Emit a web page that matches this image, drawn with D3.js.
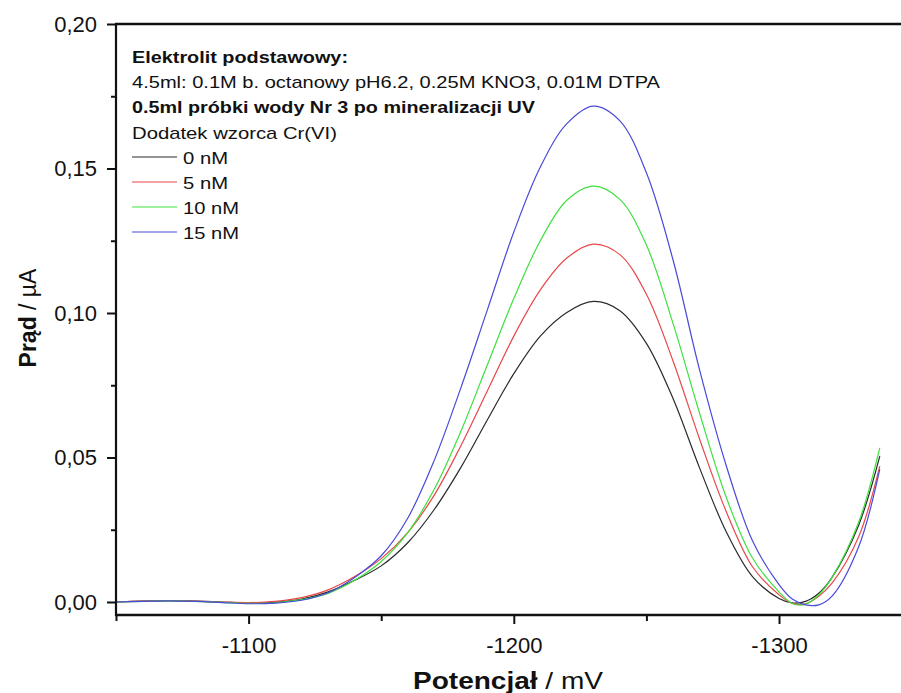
<!DOCTYPE html>
<html>
<head>
<meta charset="utf-8">
<script src="https://cdn.jsdelivr.net/npm/d3@7/dist/d3.min.js"></script>
<style>
  body { margin: 0; background: #fff; }
  svg { display: block; font-family: Arial, "Liberation Sans", sans-serif; }
</style>
</head>
<body>
<div id="chart"></div>
<script>
// potential grid (mV) shared by all curves
const potencjal = [-1050,-1060,-1070,-1080,-1090,-1100,-1110,-1120,-1130,-1140,-1150,-1160,-1170,-1180,-1190,-1200,-1210,-1220,-1230,-1240,-1250,-1260,-1270,-1280,-1290,-1300,-1305,-1310,-1315,-1320,-1330,-1338];

const prad0 = [0.0000,0.0003,0.0005,0.0003,0.0000,-0.0003,-0.0001,0.0010,0.0035,0.0075,0.0125,0.0205,0.0320,0.0465,0.0630,0.0790,0.0920,0.1002,0.1040,0.1008,0.0895,0.0705,0.0465,0.0245,0.0088,0.0012,-0.0003,0.0002,0.0030,0.0085,0.0265,0.0505];
const prad5 = [0.0000,0.0003,0.0005,0.0003,0.0000,-0.0002,0.0002,0.0015,0.0042,0.0088,0.0150,0.0240,0.0370,0.0540,0.0730,0.0920,0.1080,0.1190,0.1238,0.1202,0.1065,0.0835,0.0565,0.0315,0.0122,0.0025,-0.0005,-0.0006,0.0020,0.0065,0.0225,0.0470];
const prad10 = [0.0000,0.0002,0.0004,0.0002,-0.0001,-0.0005,-0.0003,0.0008,0.0030,0.0075,0.0140,0.0240,0.0390,0.0590,0.0820,0.1050,0.1250,0.1390,0.1439,0.1393,0.1235,0.0965,0.0655,0.0365,0.0152,0.0035,-0.0005,-0.0008,0.0025,0.0085,0.0275,0.0533];
const prad15 = [0.0000,0.0002,0.0004,0.0002,-0.0002,-0.0006,-0.0004,0.0006,0.0032,0.0085,0.0160,0.0290,0.0490,0.0740,0.1010,0.1280,0.1505,0.1655,0.1716,0.1665,0.1485,0.1185,0.0805,0.0475,0.0212,0.0060,0.0010,-0.0010,-0.0010,0.0020,0.0190,0.0460];

const serie = ["0 nM", "5 nM", "10 nM", "15 nM"];
const kolory = ["#2a2a2a", "#e8474a", "#3ee03e", "#4a4ad8"];

const yMajor = [0, 0.05, 0.10, 0.15, 0.20];
const yMinor = [0.025, 0.075, 0.125, 0.175];
const xMajor = [-1100, -1200, -1300];
const xMinor = [-1050, -1150, -1250];

const opis = [
  {t: "Elektrolit podstawowy:", b: true, w: 216},
  {t: "4.5ml: 0.1M b. octanowy pH6.2, 0.25M KNO3, 0.01M DTPA", b: false, w: 528},
  {t: "0.5ml próbki wody Nr 3 po mineralizacji UV", b: true, w: 403},
  {t: "Dodatek wzorca Cr(VI)", b: false, w: 205}
];

const W = 901, H = 693;
const mLeft = 116, mTop = 24, mBottom = 615, mRight = 901;

const svg = d3.select("#chart").append("svg")
  .attr("width", W).attr("height", H);

const x = d3.scaleLinear().domain([-1050, -1346]).range([mLeft, mRight]);
const y = d3.scaleLinear().domain([-0.0045, 0.20]).range([mBottom, mTop]);

const fmt = d => d3.format(".2f")(d).replace(".", ",");

// curves
const dane = [prad0, prad5, prad10, prad15];
const line = d3.line()
  .x((d, i) => x(potencjal[i]))
  .y(d => y(d))
  .curve(d3.curveCatmullRom.alpha(0.5));

svg.append("g").selectAll("path")
  .data(dane)
  .enter()
  .append("path")
  .attr("fill", "none")
  .attr("stroke", (d, i) => kolory[i])
  .attr("stroke-width", 1.2)
  .attr("d", line);

// axes
const yAx = svg.append("g").attr("transform", `translate(${mLeft},0)`)
  .call(d3.axisLeft(y).tickValues(yMajor).tickSize(9).tickFormat(fmt));
svg.append("g").attr("transform", `translate(${mLeft},0)`)
  .call(d3.axisLeft(y).tickValues(yMinor).tickSize(5).tickFormat(""));

const xAx = svg.append("g").attr("transform", `translate(0,${mBottom})`)
  .call(d3.axisBottom(x).tickValues(xMajor).tickSize(9).tickFormat(d3.format("d")));
svg.append("g").attr("transform", `translate(0,${mBottom})`)
  .call(d3.axisBottom(x).tickValues(xMinor).tickSize(6).tickFormat(""));

svg.selectAll(".domain").remove();
svg.selectAll(".tick line").attr("stroke", "#111").attr("stroke-width", 2);
svg.selectAll(".tick text").attr("fill", "#111").style("font-size", "22px");
yAx.selectAll(".tick text").attr("x", -19);
xAx.selectAll(".tick text").attr("y", 22).text(d => "-" + Math.abs(d));

// frame lines
svg.append("line").attr("x1", mLeft).attr("x2", mLeft).attr("y1", mTop - 1).attr("y2", mBottom + 1)
  .attr("stroke", "#111").attr("stroke-width", 2.2);
svg.append("line").attr("x1", mLeft - 1).attr("x2", mRight).attr("y1", mBottom).attr("y2", mBottom)
  .attr("stroke", "#111").attr("stroke-width", 2.6);
svg.append("line").attr("x1", mLeft - 1).attr("x2", mRight).attr("y1", mTop).attr("y2", mTop)
  .attr("stroke", "#111").attr("stroke-width", 2.6);

// axis titles
const xt = svg.append("text")
  .attr("x", 508).attr("y", 689)
  .attr("text-anchor", "middle")
  .style("font-size", "24px").attr("fill", "#111")
  .attr("textLength", 190)
  .attr("lengthAdjust", "spacingAndGlyphs");
xt.append("tspan").style("font-weight", "bold").text("Potencjał");
xt.append("tspan").text(" / mV");

const yt = svg.append("text")
  .attr("transform", `translate(36,318) rotate(-90)`)
  .attr("text-anchor", "middle")
  .style("font-size", "23px").attr("fill", "#111");
yt.append("tspan").style("font-weight", "bold").text("Prąd");
yt.append("tspan").text(" / µA");

// legend block
const lg = svg.append("g");
lg.selectAll("text.opis")
  .data(opis)
  .enter()
  .append("text")
  .attr("class", "opis")
  .attr("x", 132)
  .attr("y", (d, i) => 63 + i * 25.2)
  .style("font-size", "17px")
  .style("font-weight", d => d.b ? "bold" : "normal")
  .attr("fill", "#111")
  .attr("textLength", d => d.w)
  .attr("lengthAdjust", "spacingAndGlyphs")
  .text(d => d.t);

const wpis = lg.selectAll("g.wpis")
  .data(serie)
  .enter()
  .append("g")
  .attr("class", "wpis")
  .attr("transform", (d, i) => `translate(0,${164 + i * 25})`);
wpis.append("line")
  .attr("x1", 132).attr("x2", 177)
  .attr("y1", -7).attr("y2", -7)
  .attr("stroke", (d, i) => kolory[i])
  .attr("stroke-width", 1.2);
wpis.append("text")
  .attr("x", 183)
  .style("font-size", "17px")
  .attr("fill", "#111")
  .attr("textLength", d => d.length > 4 ? 56 : 45)
  .attr("lengthAdjust", "spacingAndGlyphs")
  .text(d => d);
</script>
</body>
</html>
